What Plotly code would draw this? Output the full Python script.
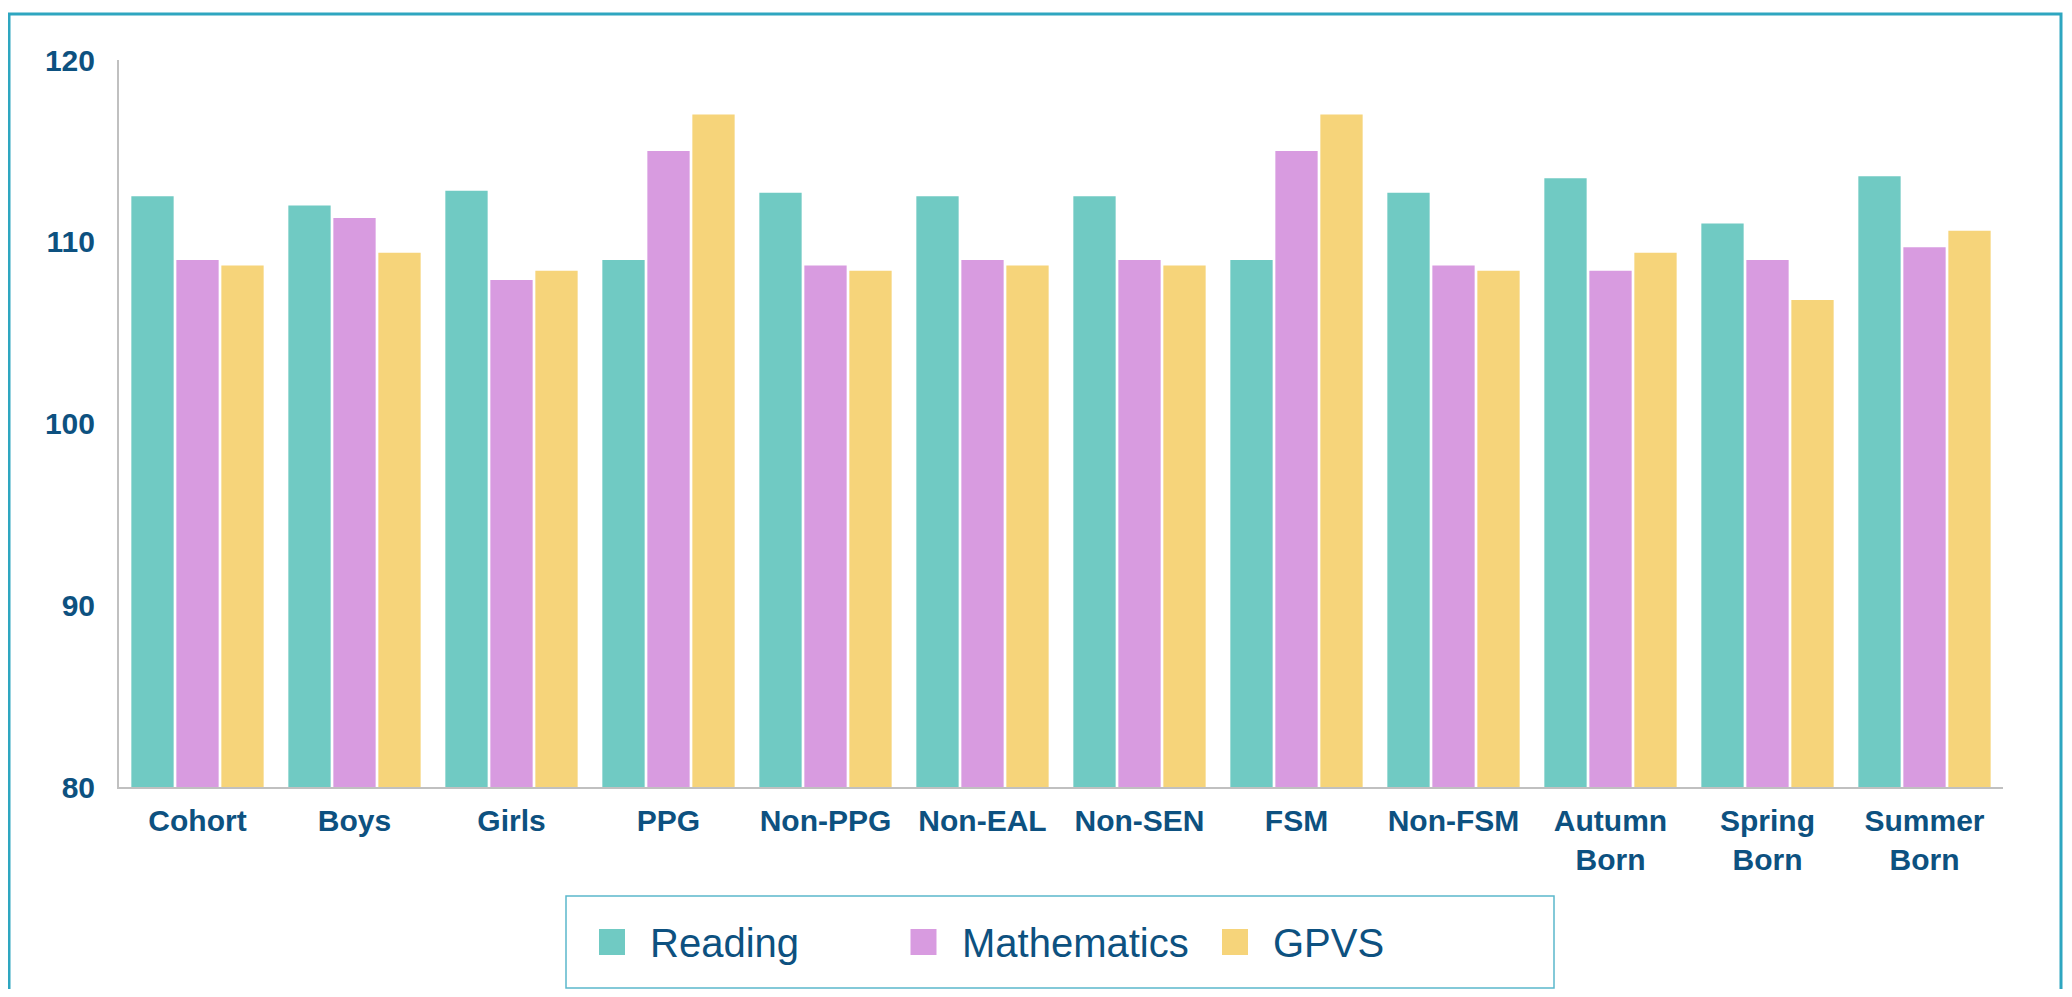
import plotly.graph_objects as go

categories = ["Cohort", "Boys", "Girls", "PPG", "Non-PPG", "Non-EAL", "Non-SEN",
              "FSM", "Non-FSM", "Autumn<br>Born", "Spring<br>Born", "Summer<br>Born"]
reading = [112.5, 112.0, 112.8, 109.0, 112.7, 112.5, 112.5, 109.0, 112.7, 113.5, 111.0, 113.6]
mathematics = [109.0, 111.3, 107.9, 115.0, 108.7, 109.0, 109.0, 115.0, 108.7, 108.4, 109.0, 109.7]
gpvs = [108.7, 109.4, 108.4, 117.0, 108.4, 108.7, 108.7, 117.0, 108.4, 109.4, 106.8, 110.6]

series = [("Reading", reading, "#70cac3"),
          ("Mathematics", mathematics, "#d89be0"),
          ("GPVS", gpvs, "#f6d47a")]

text_col = "#0d5180"
# page body has an 8px margin, so the figure sits at (8, 8) in the window
OFF = 8
W, H = 2072 - 2 * OFF, 997 - 2 * OFF
L, T = 119 - OFF, 60 - OFF
R, B = W - (2003 - OFF), H - (787 - OFF)
pw, ph = W - L - R, H - T - B


def px_x(x):
    return (x - OFF - L) / pw


def px_y(y):
    return (H - B - (y - OFF)) / ph


fig = go.Figure()
for name, vals, col in series:
    fig.add_trace(go.Bar(x=categories, y=vals, name=name, showlegend=False,
                         marker=dict(color=col, line=dict(width=0))))

shapes = [
    dict(type="rect", xref="paper", yref="paper",
         x0=px_x(9), x1=px_x(2061), y0=px_y(1030), y1=px_y(14),
         line=dict(color="#2ea6c0", width=3), fillcolor="rgba(0,0,0,0)",
         layer="below"),
    dict(type="rect", xref="paper", yref="paper",
         x0=px_x(566), x1=px_x(1554), y0=px_y(988), y1=px_y(896),
         line=dict(color="#5bb8cc", width=1.5), fillcolor="rgba(0,0,0,0)"),
]
annotations = []
# legend drawn by hand so the swatches match the reference size
for i, (name, vals, col) in enumerate(series):
    sx = 599 + i * 311.5
    shapes.append(dict(type="rect", xref="paper", yref="paper",
                       x0=px_x(sx), x1=px_x(sx + 26), y0=px_y(955), y1=px_y(929),
                       line=dict(width=0), fillcolor=col))
    annotations.append(dict(xref="paper", yref="paper", x=px_x(sx + 49), y=px_y(943),
                            xanchor="left", yanchor="middle", showarrow=False,
                            text=name, font=dict(size=40, color=text_col)))

fig.update_layout(
    width=W, height=H,
    margin=dict(l=L, r=R, t=T, b=B),
    plot_bgcolor="white", paper_bgcolor="white",
    barmode="group", bargap=0.14, bargroupgap=0.06,
    font=dict(family="Liberation Sans, Arial", color=text_col),
    xaxis=dict(showline=True, linecolor="#c0c0c0", linewidth=2, ticks="",
               showgrid=False, tickangle=0,
               tickfont=dict(size=30, weight="bold", color=text_col),
               ticklabelstandoff=6),
    yaxis=dict(range=[80, 120], dtick=10, showline=True, linecolor="#c0c0c0",
               linewidth=2, ticks="", showgrid=False, zeroline=False,
               tickfont=dict(size=30, weight="bold", color=text_col),
               ticklabelstandoff=16),
    showlegend=False,
    shapes=shapes,
    annotations=annotations,
)

fig.write_html("out.html")
